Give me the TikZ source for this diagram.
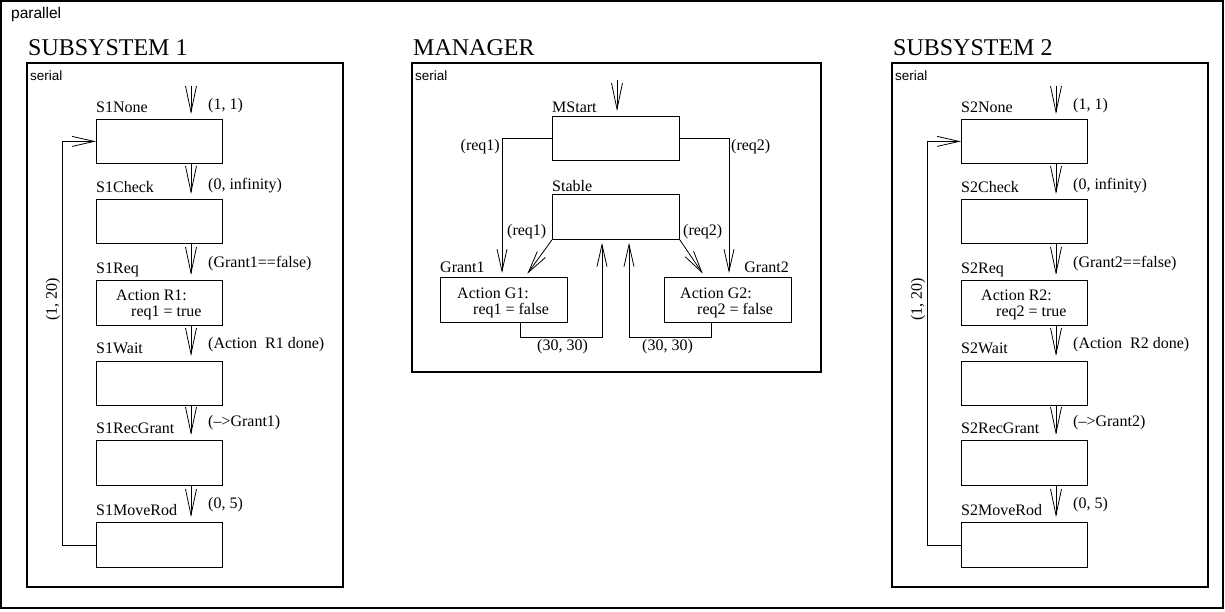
\documentclass[tikz,border=0pt]{standalone}
\usepackage{fontspec}
\setmainfont{Liberation Serif}
\newfontfamily\helv{Liberation Sans}
\usetikzlibrary{arrows.meta}
\tikzset{
  statebox/.style={draw, line width=0.8pt, minimum width=126pt, minimum height=44pt, inner sep=0pt, anchor=north west},
  lbl/.style={font=\fontsize{16}{19}\selectfont, inner sep=0pt, anchor=base west},
  lblr/.style={font=\fontsize{16}{19}\selectfont, inner sep=0pt, anchor=base east},
  trans/.style={draw, line width=0.8pt, -{Straight Barb[length=26pt,width=11pt,line width=0.8pt]}, shorten >=5pt},
  mtrans/.style={draw, line width=0.8pt, -{Straight Barb[length=22pt,width=10pt,line width=0.8pt]}},
  container/.style={draw, line width=2pt},
  titletext/.style={font=\fontsize{24}{28}\selectfont, inner sep=0pt, anchor=base west},
  tagtext/.style={font=\helv\fontsize{13.5}{16}\selectfont, inner sep=0pt, anchor=base west},
}
\newcommand{\drawsubsys}[2]{%
  \begin{scope}[xshift=#2pt]
    \node[titletext] (title#1) at (28,55.5) {SUBSYSTEM #1};
    \draw[container] (27,63) rectangle (343,587);
    \node[tagtext] (serial#1) at (30,80) {serial};
    \coordinate (ax#1) at (191,0);
    \coordinate (start#1) at (191,86);
    % states
    \node[statebox] (none#1) at (96,119) {};
    \node[statebox] (check#1) at (96,199) {};
    \node[statebox, minimum height=45pt] (req#1) at (96,280) {};
    \node[statebox] (wait#1) at (96,361) {};
    \node[statebox, minimum height=45pt] (rec#1) at (96,440) {};
    \node[statebox, minimum height=45pt] (move#1) at (96,522) {};
    % state names
    \node[lbl] (nonel#1) at (96,112) {S#1None};
    \node[lbl] (checkl#1) at (96,192) {S#1Check};
    \node[lbl] (reql#1) at (96,273) {S#1Req};
    \node[lbl] (waitl#1) at (96,353) {S#1Wait};
    \node[lbl] (recl#1) at (96,433) {S#1RecGrant};
    \node[lbl] (movel#1) at (96,515) {S#1MoveRod};
    % actions
    \node[lbl] (acta#1) at (116,300) {Action R#1:};
    \node[lbl] (actb#1) at (131,316) {req#1 = true};
    % transitions
    \draw[trans] (start#1) -- (none#1.north -| ax#1);
    \draw[trans] (none#1.south -| ax#1) -- (check#1.north -| ax#1);
    \draw[trans] (check#1.south -| ax#1) -- (req#1.north -| ax#1);
    \draw[trans] (req#1.south -| ax#1) -- (wait#1.north -| ax#1);
    \draw[trans] (wait#1.south -| ax#1) -- (rec#1.north -| ax#1);
    \draw[trans] (rec#1.south -| ax#1) -- (move#1.north -| ax#1);
    \node[lbl] (t1#1) at (208,109) {(1, 1)};
    \node[lbl] (t2#1) at (208,189) {(0, infinity)};
    \node[lbl] (t3#1) at (208,267) {(Grant#1==false)};
    \node[lbl] (t4#1) at (208,348) {(Action\ \ R#1 done)};
    \node[lbl] (t5#1) at (208,426) {(–>Grant#1)};
    \node[lbl] (t6#1) at (208,508) {(0, 5)};
    % loop
    \draw[mtrans] (move#1.west) -- ++(-34,0) |- (none#1.west);
    \node[font=\fontsize{16}{19}\selectfont, inner sep=0pt, rotate=90] (loop#1) at (53,299) {(1, 20)};
  \end{scope}
}
\begin{document}
\begin{tikzpicture}[x=1pt,y=-1pt]
  \useasboundingbox (0,0) rectangle (1225,611);
  \draw[line width=1.5pt] (1,1) rectangle (1223,608);
  \node[tagtext, font=\helv\fontsize{15.5}{18}\selectfont] (par) at (11,18.3) {parallel};

  \drawsubsys{1}{0}
  \drawsubsys{2}{865}

  % MANAGER
  \node[titletext] (mtitle) at (413,55.5) {MANAGER};
  \draw[container] (412,63) rectangle (821,372);
  \node[tagtext] (mserial) at (415,80) {serial};
  \node[statebox, minimum width=127pt] (mstart) at (552,116) {};
  \node[statebox, minimum width=127pt, minimum height=45pt] (stable) at (552,194) {};
  \node[statebox, minimum width=127pt, minimum height=45pt] (grant1) at (440,277) {};
  \node[statebox, minimum width=127pt, minimum height=45pt] (grant2) at (664,277) {};
  \node[lbl] (mstartl) at (552,112) {MStart};
  \node[lbl] (stablel) at (552,191) {Stable};
  \node[lbl] (grant1l) at (440,272) {Grant1};
  \node[lblr] (grant2l) at (789,272) {Grant2};
  \node[lbl] (g1a) at (457,298) {Action G1:};
  \node[lbl] (g1b) at (473,314) {req1 = false};
  \node[lbl] (g2a) at (680,298) {Action G2:};
  \node[lbl] (g2b) at (697,314) {req2 = false};

  \coordinate (mtop) at (617,80);
  \coordinate (mx1) at (502,0);
  \coordinate (mx2) at (729,0);
  \coordinate (mx3) at (525,0);
  \coordinate (mx4) at (705,0);
  \coordinate (mx5) at (520,0);
  \coordinate (mx6) at (602,0);
  \coordinate (mx7) at (711,0);
  \coordinate (mx8) at (629,0);

  \draw[trans] (mtop) -- (mstart.north -| mtop);
  \draw[mtrans, shorten >=4pt] (mstart.west) -| (grant1.north -| mx1);
  \draw[mtrans, shorten >=4pt] (mstart.east) -| (grant2.north -| mx2);
  \draw[mtrans, shorten >=4pt] (stable.south west) -- (grant1.north -| mx3);
  \draw[mtrans, shorten >=4pt] (stable.south east) -- (grant2.north -| mx4);
  \draw[mtrans, shorten >=3pt] (grant1.south -| mx5) -- ++(0,15) -| (stable.south -| mx6);
  \draw[mtrans, shorten >=3pt] (grant2.south -| mx7) -- ++(0,15) -| (stable.south -| mx8);

  \node[lblr] (r1a) at (500,150) {(req1)};
  \node[lbl] (r2a) at (731,150) {(req2)};
  \node[lbl] (r1b) at (507,235) {(req1)};
  \node[lbl] (r2b) at (683,235) {(req2)};
  \node[lbl] (c1) at (537,350) {(30, 30)};
  \node[lbl] (c2) at (642,350) {(30, 30)};
\end{tikzpicture}
\end{document}
